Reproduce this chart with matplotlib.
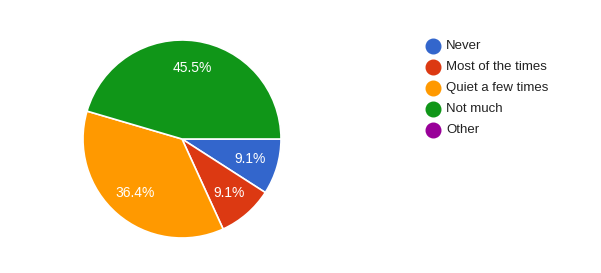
import matplotlib.pyplot as plt
from matplotlib.lines import Line2D

plt.rcParams['font.family'] = ['Liberation Sans', 'DejaVu Sans']

# survey answers (counts out of 11)
labels = ['Never', 'Most of the times', 'Quiet a few times', 'Not much', 'Other']
counts = [1, 1, 4, 5, 0]
colors = ['#3366cc', '#dc3912', '#ff9900', '#109618', '#990099']

W, H = 601, 273
fig = plt.figure(figsize=(W / 100, H / 100), dpi=100)

# pie: centre ~ (182,139) px, radius ~99 px
ax = fig.add_axes([83 / W, (H - 238) / H, 198 / W, 198 / H])
pie_vals = [c for c in counts if c > 0]
pie_cols = [col for c, col in zip(counts, colors) if c > 0]
wedges, texts, autotexts = ax.pie(
    pie_vals, colors=pie_cols, startangle=0, counterclock=False,
    autopct='%1.1f%%', pctdistance=0.72,
    wedgeprops=dict(edgecolor='white', linewidth=1.2),
    textprops=dict(color='white', fontsize=10))
ax.set_xlim(-1, 1)
ax.set_ylim(-1, 1)
ax.set_aspect('equal')
ax.axis('off')

# legend, drawn by hand at Google Forms positions
y0, dy = 46, 21
for i, (lab, col) in enumerate(zip(labels, colors)):
    y = 1 - (y0 + i * dy) / H
    fig.add_artist(Line2D([433 / W], [y], marker='o', markersize=10.5,
                          markerfacecolor=col, markeredgecolor=col,
                          linestyle='none', transform=fig.transFigure))
    fig.text(446 / W, y, lab, fontsize=9.5, color='#222222',
             ha='left', va='center')

fig.savefig('out.png', dpi=100)
